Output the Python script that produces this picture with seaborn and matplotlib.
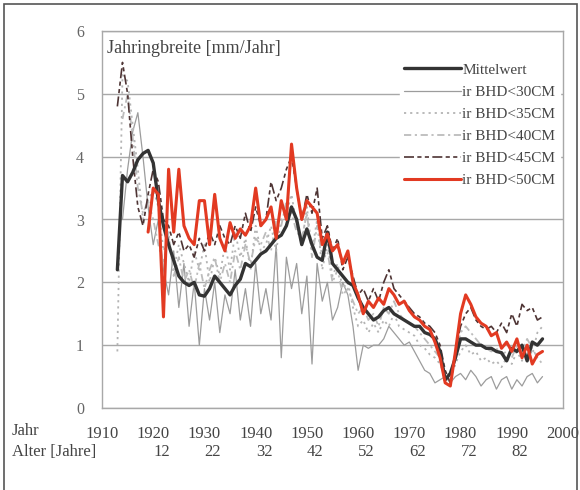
import numpy as np
import pandas as pd
import matplotlib
matplotlib.use("Agg")
import matplotlib.pyplot as plt
from matplotlib.patches import Rectangle
import seaborn as sns

nan = np.nan
years = list(range(1912, 1997))

mittelwert = [nan, 2.2, 3.7, 3.6, 3.75, 3.95, 4.05, 4.1, 3.9, 3.3,
              2.9, 2.6, 2.35, 2.1, 2.0, 1.95, 2.0, 1.8, 1.78, 1.9,
              2.1, 2.0, 1.9, 1.8, 1.95, 2.05, 2.3, 2.25, 2.35, 2.45,
              2.5, 2.6, 2.7, 2.75, 2.9, 3.2, 3.0, 2.6, 2.85, 2.6,
              2.4, 2.35, 2.8, 2.3, 2.2, 2.1, 2.0, 1.95, 1.75, 1.6,
              1.5, 1.4, 1.45, 1.55, 1.6, 1.5, 1.45, 1.4, 1.35, 1.3,
              1.3, 1.2, 1.17, 1.1, 0.9, 0.45, 0.55, 0.8, 1.1, 1.1,
              1.05, 1.0, 1.0, 0.95, 0.95, 0.9, 0.88, 0.75, 0.95, 0.9,
              1.0, 0.75, 1.05, 1.0, 1.1]

bhd30 = [nan, nan, 3.0, 3.8, 4.4, 4.7, 4.0, 3.2, 2.6, 3.0,
         2.2, 1.8, 2.5, 1.6, 2.3, 1.3, 2.0, 1.0, 1.9, 1.4,
         2.0, 1.2, 1.8, 1.5, 2.2, 1.4, 1.9, 1.3, 2.3, 1.5,
         1.9, 1.4, 2.6, 0.8, 2.4, 1.9, 2.3, 1.5, 2.1, 0.7,
         2.3, 1.7, 2.0, 1.4, 1.6, 2.0, 1.8, 1.3, 0.6, 1.0,
         0.95, 1.0, 1.0, 1.1, 1.3, 1.2, 1.1, 1.0, 1.05, 0.9,
         0.75, 0.6, 0.55, 0.4, 0.45, 0.5, 0.4, 0.5, 0.55, 0.45,
         0.6, 0.5, 0.35, 0.45, 0.5, 0.3, 0.45, 0.5, 0.3, 0.45,
         0.35, 0.5, 0.55, 0.4, 0.5]

bhd35 = [nan, 0.9, 5.3, 5.2, 4.5, 3.8, 3.0, 3.3, 3.5, 3.2,
         2.5, 2.7, 2.2, 2.6, 2.3, 2.0, 2.5, 2.2, 2.6, 2.0,
         2.4, 2.1, 2.6, 2.2, 2.8, 2.4, 2.7, 2.2, 2.9, 2.5,
         2.6, 2.9, 2.5, 3.0, 3.1, 3.4, 2.9, 2.6, 3.2, 2.5,
         3.0, 2.2, 2.6, 2.1, 2.3, 1.9, 2.0, 1.6, 1.3, 1.4,
         1.2, 1.35, 1.2, 1.4, 1.3, 1.5, 1.3, 1.25, 1.2, 1.15,
         1.0, 0.95, 0.85, 0.8, 0.7, 0.5, 0.45, 0.7, 0.9, 1.0,
         0.85, 0.9, 0.75, 0.8, 0.7, 0.75, 0.65, 0.8, 0.7, 0.9,
         0.75, 1.0, 0.85, 1.2, 1.3]

bhd40 = [nan, nan, 4.6, 5.0, 4.3, 3.5, 3.1, 3.3, 3.0, 2.6,
         2.3, 2.8, 2.1, 2.4, 2.0, 2.2, 1.9, 2.3, 1.9, 2.2,
         2.4, 2.0, 2.3, 2.0, 2.5, 2.2, 2.6, 2.3, 2.7, 2.6,
         2.8, 2.5, 3.0, 2.9, 3.3, 3.1, 2.8, 2.7, 3.1, 2.4,
         2.9, 2.4, 2.5, 2.0, 2.2, 1.8, 1.9, 1.7, 1.5, 1.6,
         1.4, 1.5, 1.3, 1.6, 1.5, 1.7, 1.5, 1.4, 1.35, 1.3,
         1.2, 1.1, 1.0, 0.9, 0.8, 0.55, 0.5, 0.8, 1.2, 1.3,
         1.2, 1.1, 1.0, 0.95, 0.9, 0.95, 0.85, 0.9, 0.8, 1.0,
         0.9, 1.1, 0.95, 0.8, 0.7]

bhd45 = [nan, 4.8, 5.5, 5.0, 4.0, 3.2, 2.9, 3.4, 3.8, 3.6,
         3.0, 2.9, 2.6, 2.8, 2.5, 2.6, 2.4, 2.7, 2.5, 2.8,
         2.6, 2.9, 2.7, 2.6, 2.9, 2.7, 3.1, 2.8, 3.2, 2.9,
         3.0, 3.6, 3.3, 3.5, 3.8, 4.0, 3.5, 3.0, 3.4, 3.1,
         3.5, 2.7, 2.9, 2.5, 2.7, 2.2, 2.4, 2.1, 1.8, 1.9,
         1.7, 1.9, 1.7, 2.0, 2.2, 1.9, 1.8, 1.7, 1.6, 1.5,
         1.45, 1.35, 1.3, 1.2, 1.0, 0.6, 0.4, 0.9, 1.3, 1.5,
         1.6, 1.4, 1.3, 1.25, 1.3, 1.2, 1.35, 1.2, 1.5, 1.3,
         1.65, 1.55, 1.6, 1.4, 1.45]

bhd50 = [nan, nan, nan, nan, nan, nan, nan, 2.8, 3.5, 3.4,
         1.45, 3.8, 2.8, 3.8, 2.9, 2.7, 2.6, 3.3, 3.3, 2.6,
         3.4, 2.7, 2.5, 2.95, 2.7, 2.85, 2.75, 2.9, 3.5, 2.9,
         3.0, 3.2, 2.7, 3.3, 3.0, 4.2, 3.5, 3.0, 3.3, 3.2,
         3.1, 2.6, 2.77, 2.5, 2.6, 2.3, 2.5, 2.0, 1.8, 1.5,
         1.7, 1.6, 1.75, 1.65, 1.9, 1.8, 1.65, 1.7, 1.55, 1.45,
         1.4, 1.3, 1.25, 1.05, 0.8, 0.4, 0.35, 0.9, 1.5, 1.8,
         1.65, 1.45, 1.35, 1.3, 1.15, 1.2, 0.95, 1.05, 0.9, 1.1,
         0.8, 1.0, 0.7, 0.85, 0.9]

labels = ["Mittelwert", "ir BHD<30CM", "ir BHD<35CM", "ir BHD<40CM",
          "ir BHD<45CM", "ir BHD<50CM"]
tick_years = [1910, 1920, 1930, 1940, 1950, 1960, 1970, 1980, 1990, 2000]
ages = ["", "12", "22", "32", "42", "52", "62", "72", "82", ""]

sns.set_style("white")
plt.rcParams["font.family"] = ["Liberation Serif", "DejaVu Serif"]

fig = plt.figure(figsize=(5.8, 4.9), dpi=100)
ax = fig.add_axes([102 / 580, 1 - 408 / 490, 461 / 580, 377 / 490])

df = pd.DataFrame({"Jahr": years, labels[0]: mittelwert, labels[1]: bhd30,
                   labels[2]: bhd35, labels[3]: bhd40, labels[4]: bhd45,
                   labels[5]: bhd50})

styles = {
    labels[1]: dict(color="#9c9c9c", lw=0.9, ls="-"),
    labels[2]: dict(color="#b4b4b4", lw=1.3, ls=(0, (1.2, 2.2))),
    labels[3]: dict(color="#bcbcbc", lw=1.3, ls=(0, (4, 2, 1.2, 2))),
    labels[4]: dict(color="#4e3434", lw=1.2, ls=(0, (6, 2, 2.5, 2, 2.5, 2))),
    labels[0]: dict(color="#333333", lw=2.4, ls="-"),
    labels[5]: dict(color="#e23a22", lw=2.2, ls="-"),
}
handles = {}
for name in [labels[1], labels[2], labels[3], labels[4], labels[0], labels[5]]:
    st = styles[name]
    sub = df[["Jahr", name]].dropna()
    sns.lineplot(data=sub, x="Jahr", y=name, ax=ax, color=st["color"],
                 linewidth=st["lw"], linestyle=st["ls"], label=name,
                 legend=False)
    handles[name] = ax.get_lines()[-1]

ax.set_xlim(1910, 2000)
ax.set_ylim(0, 6)
ax.set_yticks([0, 1, 2, 3, 4, 5, 6])
ax.set_yticklabels(["0", "1", "2", "3", "4", "5", "6"])
ax.yaxis.grid(True, color="#a8a8a8", lw=1.0)
ax.xaxis.grid(False)
for s in ax.spines.values():
    s.set_color("#a8a8a8")
    s.set_linewidth(1.0)
ax.tick_params(axis="y", length=0, pad=13, labelsize=11.5, labelcolor="#666666")
ax.set_xticks(tick_years)
ax.set_xticklabels([f"{y}\n{a}" if a else f"{y}" for y, a in zip(tick_years, ages)],
                   multialignment="right")
ax.tick_params(axis="x", length=0, pad=13, labelsize=12, labelcolor="#444444")
ax.set_xlabel("")
ax.set_ylabel("")

ax.text(0.01, 0.975, "Jahringbreite [mm/Jahr]", transform=ax.transAxes,
        ha="left", va="top", fontsize=13, color="#444444")

leg = ax.legend([handles[l] for l in labels], labels, loc="upper right",
                bbox_to_anchor=(1.0, 0.935), frameon=True, fontsize=11,
                handlelength=3.7, handletextpad=0.1, labelspacing=0.55,
                borderpad=0.3, borderaxespad=0.2, fancybox=False)
leg.get_frame().set_facecolor("white")
leg.get_frame().set_edgecolor("white")
leg.get_frame().set_alpha(1.0)
for t in leg.get_texts():
    t.set_color("#444444")

fig.text(12 / 580, 1 - 431 / 490, "Jahr", ha="left", va="center",
         fontsize=12, color="#444444")
fig.text(12 / 580, 1 - 452 / 490, "Alter [Jahre]", ha="left", va="center",
         fontsize=12, color="#444444")

fig.patches.append(Rectangle((4 / 580, -0.02), 573 / 580, 1.02 - 4 / 490,
                             transform=fig.transFigure, fill=False,
                             edgecolor="#555555", lw=1.2))

fig.savefig("out.png", dpi=100)
